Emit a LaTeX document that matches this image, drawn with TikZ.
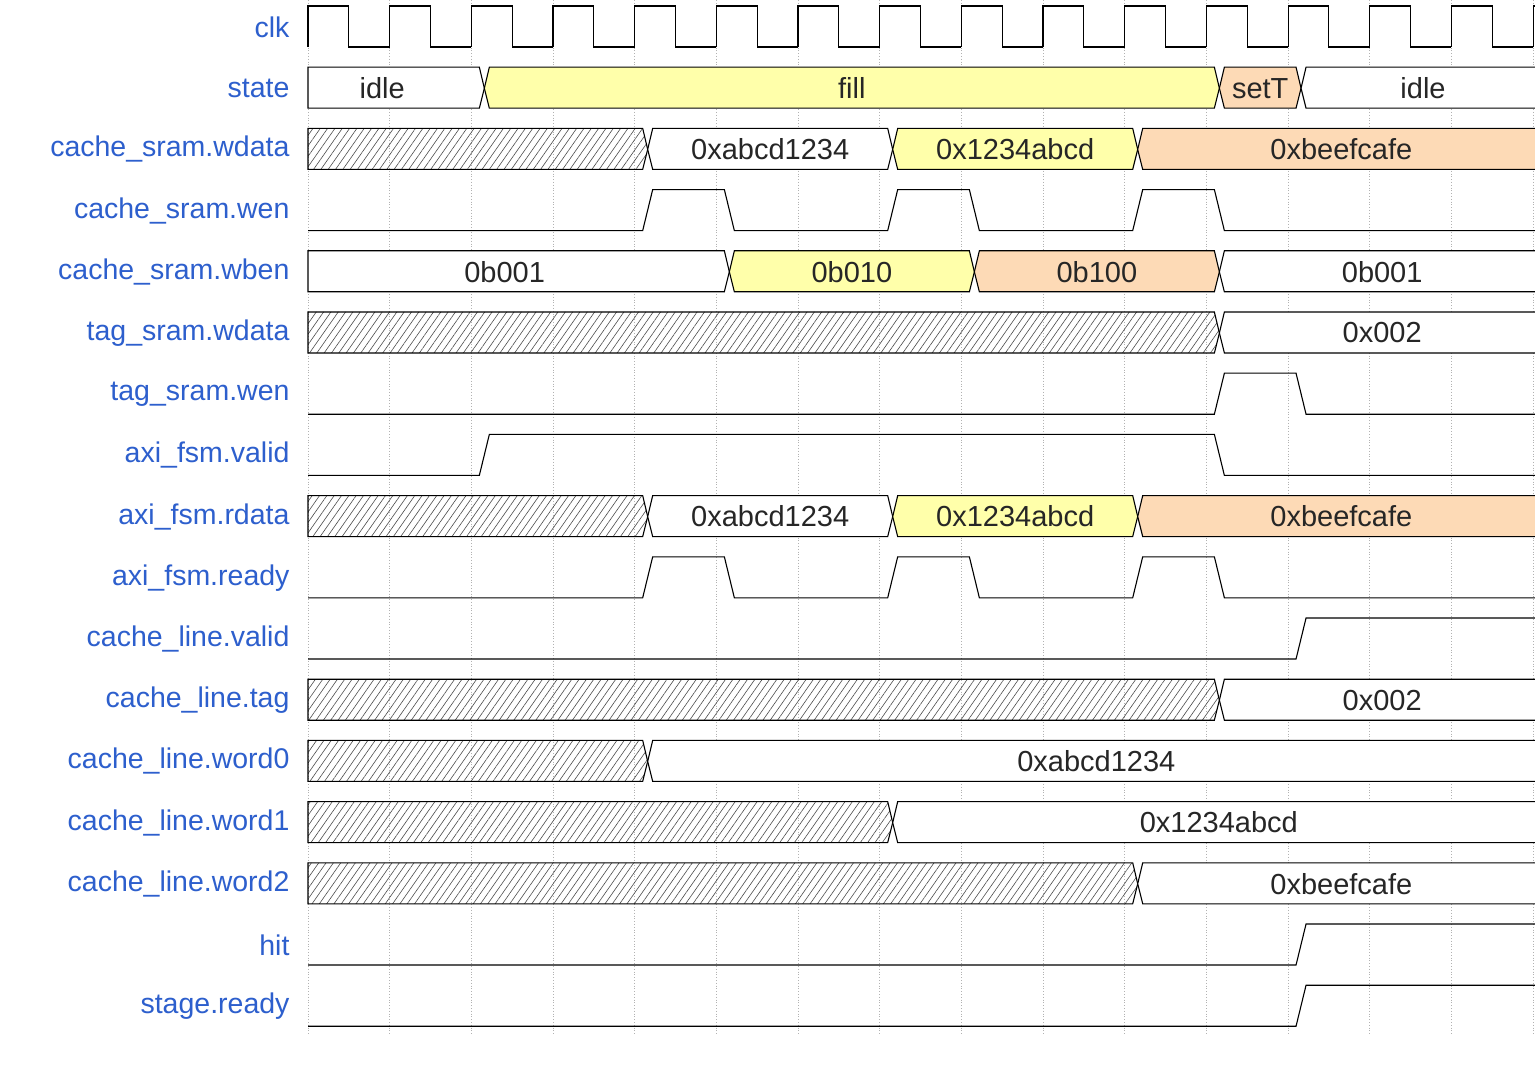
\documentclass[tikz,border=0pt]{standalone}
\usepackage{fontspec}
\setmainfont{Liberation Sans}
\usetikzlibrary{patterns.meta}
\definecolor{lab}{RGB}{45,95,205}
\definecolor{yel}{RGB}{255,255,170}
\definecolor{org}{RGB}{253,218,182}
\tikzset{
  wave/.style={line width=1.1pt,black},
  hatch/.style={draw=black,line width=1.1pt,pattern={Lines[angle=55,distance=6pt,line width=0.6pt]},pattern color=black!70},
  plain/.style={draw=black,line width=1.1pt,fill=white},
  yb/.style={draw=black,line width=1.1pt,fill=yel},
  ob/.style={draw=black,line width=1.1pt,fill=org},
  lbl/.style={anchor=east,text=lab,font=\fontsize{28.5}{32}\selectfont},
  val/.style={font=\fontsize{29}{32}\selectfont,text=black!85},
  grid/.style={gray!60,dotted,line width=0.8pt},
  declare function={ex(\k)=316+81.67*\k; tk(\k)=308+81.67*\k; ry(\i)=27+61.2*\i;}
}
\newcommand\bseg[5]{%
 \pgfmathsetmacro\xa{ifthenelse(#2==0,308,321+81.67*#2)}%
 \pgfmathsetmacro\xb{ifthenelse(#3==15,1545,321+81.67*#3)}%
 \pgfmathsetmacro\ha{ifthenelse(#2==0,0,5)}%
 \pgfmathsetmacro\hb{ifthenelse(#3==15,0,5)}%
 \pgfmathsetmacro\off{ifthenelse(#2==0,-14,0)}%
 \pgfmathsetmacro\yc{27+61.2*#1}%
 \path[#4] (\xa,\yc) -- (\xa+\ha,\yc-21) -- (\xb-\hb,\yc-21) -- (\xb,\yc) -- (\xb-\hb,\yc+20) -- (\xa+\ha,\yc+20) -- cycle;
 \node[val] (s#1x#2) at ({(\xa+\xb)/2+\off},\yc) {#5};}
\begin{document}
\begin{tikzpicture}[x=1pt,y=-1pt]
\useasboundingbox[fill=white] (0,0) rectangle (1535,1067);
\foreach \k in {0,...,15} \draw[grid] ({tk(\k)},0) -- ({tk(\k)},1035);
% labels
\foreach \t [count=\i from 0] in {clk,state,cache\_sram.wdata,cache\_sram.wen,cache\_sram.wben,tag\_sram.wdata,tag\_sram.wen,axi\_fsm.valid,axi\_fsm.rdata,axi\_fsm.ready,cache\_line.valid,cache\_line.tag,cache\_line.word0,cache\_line.word1,cache\_line.word2,hit,stage.ready}
  \node[lbl] (l\i) at (293,{ry(\i)}) {\t};
% clock
\foreach \k in {0,...,14}
  \draw[wave] ({tk(\k)},{ry(0)+20}) -- ({tk(\k)},{ry(0)-21}) -- ({tk(\k)+40.8},{ry(0)-21}) -- ({tk(\k)+40.8},{ry(0)+20}) -- ({tk(\k)+81.67},{ry(0)+20});
\draw[wave] ({tk(15)},{ry(0)+20}) -- ({tk(15)},{ry(0)-21}) -- (1540,{ry(0)-21});
% state
\bseg{1}{0}{2}{plain}{idle}
\bseg{1}{2}{11}{yb}{fill}
\bseg{1}{11}{12}{ob}{setT}
\bseg{1}{12}{15}{plain}{idle}
% data buses
\foreach \r in {2,8}{
\bseg{\r}{0}{4}{hatch}{}
\bseg{\r}{4}{7}{plain}{0xabcd1234}
\bseg{\r}{7}{10}{yb}{0x1234abcd}
\bseg{\r}{10}{15}{ob}{0xbeefcafe}
}
\bseg{4}{0}{5}{plain}{0b001}
\bseg{4}{5}{8}{yb}{0b010}
\bseg{4}{8}{11}{ob}{0b100}
\bseg{4}{11}{15}{plain}{0b001}
\foreach \r in {5,11}{
\bseg{\r}{0}{11}{hatch}{}
\bseg{\r}{11}{15}{plain}{0x002}
}
\bseg{12}{0}{4}{hatch}{}
\bseg{12}{4}{15}{plain}{0xabcd1234}
\bseg{13}{0}{7}{hatch}{}
\bseg{13}{7}{15}{plain}{0x1234abcd}
\bseg{14}{0}{10}{hatch}{}
\bseg{14}{10}{15}{plain}{0xbeefcafe}
% pulses
\foreach \r in {3,9}{
 \pgfmathsetmacro\H{ry(\r)-21}\pgfmathsetmacro\L{ry(\r)+20}
 \draw[wave] (308,\L)
  -- ({ex(4)},\L) -- ({ex(4)+10},\H) -- ({ex(5)},\H) -- ({ex(5)+10},\L)
  -- ({ex(7)},\L) -- ({ex(7)+10},\H) -- ({ex(8)},\H) -- ({ex(8)+10},\L)
  -- ({ex(10)},\L) -- ({ex(10)+10},\H) -- ({ex(11)},\H) -- ({ex(11)+10},\L) -- (1540,\L);
}
\pgfmathsetmacro\H{ry(6)-21}\pgfmathsetmacro\L{ry(6)+20}
\draw[wave] (308,\L) -- ({ex(11)},\L) -- ({ex(11)+10},\H) -- ({ex(12)},\H) -- ({ex(12)+10},\L) -- (1540,\L);
\pgfmathsetmacro\H{ry(7)-21}\pgfmathsetmacro\L{ry(7)+20}
\draw[wave] (308,\L) -- ({ex(2)},\L) -- ({ex(2)+10},\H) -- ({ex(11)},\H) -- ({ex(11)+10},\L) -- (1540,\L);
\foreach \r in {10,15,16}{
 \pgfmathsetmacro\H{ry(\r)-21}\pgfmathsetmacro\L{ry(\r)+20}
 \draw[wave] (308,\L) -- ({ex(12)},\L) -- ({ex(12)+10},\H) -- (1540,\H);
}
\end{tikzpicture}
\end{document}
